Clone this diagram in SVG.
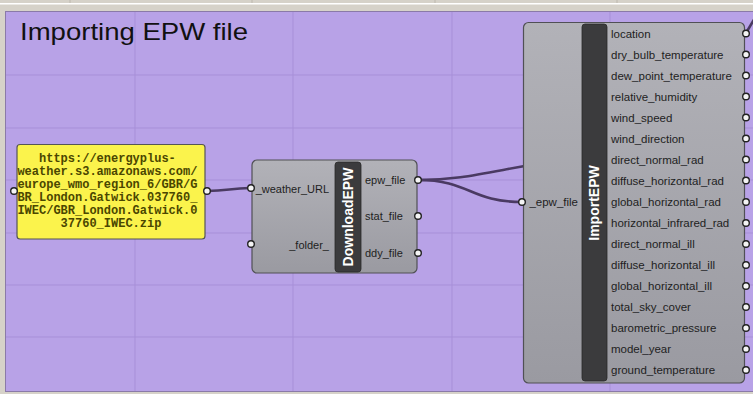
<svg xmlns="http://www.w3.org/2000/svg" width="753" height="394" viewBox="0 0 753 394">
<defs>
<linearGradient id="cg" x1="0" y1="0" x2="0" y2="1">
<stop offset="0" stop-color="#b2b2b8"/>
<stop offset="1" stop-color="#9a9aa1"/>
</linearGradient>
</defs>
<style>
.bg{fill:#d6d2c9}
.grid{stroke:#a78fd8;stroke-width:1}
.comp{fill:url(#cg);stroke:#505055;stroke-width:1.2}
.bar{fill:#3b3b3d;stroke:#2a2a2a;stroke-width:0.8}
.lbl{font-family:"Liberation Sans",Arial,sans-serif;font-size:11px;fill:#1e1e22}
.lbl2{font-family:"Liberation Sans",Arial,sans-serif;font-size:11.5px;fill:#1e1e22}
.title{font-family:"Liberation Sans",Arial,sans-serif;font-size:24px;fill:#111}
.name{font-family:"Liberation Sans",Arial,sans-serif;font-size:14px;font-weight:bold;fill:#ffffff}
.pin{fill:#f4f4f4;stroke:#222;stroke-width:1.4}
.wire{fill:none;stroke:#4a3a62;stroke-width:2.6}
.panel{fill:#fbf34c;stroke:#555;stroke-width:1.2}
.ptxt{font-family:"Liberation Mono","Courier New",monospace;font-size:12px;font-weight:bold;fill:#4a4600}
</style>
<rect class="bg" x="0" y="0" width="753" height="394"/>
<rect x="0" y="3" width="753" height="1.5" fill="#ffffff"/>
<g stroke="#bdb8ae" stroke-width="1">
<line x1="70" y1="0" x2="70" y2="3"/><line x1="252" y1="0" x2="252" y2="3"/><line x1="435" y1="0" x2="435" y2="3"/><line x1="617" y1="0" x2="617" y2="3"/>
</g>
<rect x="5.5" y="11.5" width="760" height="380" fill="#b8a2e7" stroke="#8a7aa8" stroke-width="1"/>
<g id="grid" class="grid">
<line x1="135" y1="12" x2="135" y2="391"/>
<line x1="293" y1="12" x2="293" y2="391"/>
<line x1="452" y1="12" x2="452" y2="391"/>
<line x1="610" y1="12" x2="610" y2="391"/>
<line x1="6" y1="75" x2="753" y2="75"/>
<line x1="6" y1="128" x2="753" y2="128"/>
<line x1="6" y1="180" x2="753" y2="180"/>
<line x1="6" y1="233" x2="753" y2="233"/>
<line x1="6" y1="285" x2="753" y2="285"/>
<line x1="6" y1="337" x2="753" y2="337"/>
</g>
<text class="title" x="20" y="40" textLength="228" lengthAdjust="spacingAndGlyphs">Importing EPW file</text>

<g id="connectors">
<path class="wire" d="M207,191 C228,190 230,189 250,188"/>
<path class="wire" d="M418,180 C470,180 470,202 522,202"/>
<path class="wire" d="M418,180 C465,180 490,171 560,160"/>
<path class="wire" d="M746,33 L755,18"/>
</g>

<g id="panel">
<rect class="panel" x="17" y="144.5" width="188" height="94.5" rx="3"/>
<text class="ptxt" text-anchor="middle">
<tspan x="111" y="162">https://energyplus-</tspan>
<tspan x="111" y="175">weather.s3.amazonaws.com/</tspan>
<tspan x="111" y="188">europe_wmo_region_6/GBR/G</tspan>
<tspan x="111" y="201">BR_London.Gatwick.037760_</tspan>
<tspan x="111" y="214">IWEC/GBR_London.Gatwick.0</tspan>
<tspan x="111" y="227">37760_IWEC.zip</tspan>
</text>
<circle class="pin" cx="14" cy="191" r="3.3"/>
<circle class="pin" cx="207" cy="191" r="3.3"/>
</g>

<g id="downloadepw">
<rect class="comp" x="252" y="160" width="165" height="113" rx="5"/>
<rect class="bar" x="335" y="162" width="26" height="110" rx="3"/>
<text class="name" transform="translate(353,217) rotate(-90)" text-anchor="middle">DownloadEPW</text>
<text class="lbl" x="329" y="193" text-anchor="end">_weather_URL</text>
<text class="lbl" x="329" y="249" text-anchor="end">_folder_</text>
<text class="lbl" x="365" y="184">epw_file</text>
<text class="lbl" x="365" y="220">stat_file</text>
<text class="lbl" x="365" y="257">ddy_file</text>
<circle class="pin" cx="251" cy="188" r="3.3"/>
<circle class="pin" cx="251" cy="244" r="3.3"/>
<circle class="pin" cx="418" cy="180" r="3.3"/>
<circle class="pin" cx="418" cy="216" r="3.3"/>
<circle class="pin" cx="418" cy="253" r="3.3"/>
</g>

<g id="importepw">
<rect class="comp" x="523.5" y="22.5" width="221" height="360.5" rx="5"/>
<rect class="bar" x="582" y="24" width="25" height="357" rx="3"/>
<text class="name" transform="translate(599,203) rotate(-90)" text-anchor="middle">ImportEPW</text>
<text class="lbl2" x="578" y="206" text-anchor="end">_epw_file</text>
<circle class="pin" cx="522" cy="202" r="3.3"/>
<g class="lbl2">
<text x="611" y="37.5">location</text>
<text x="611" y="58.5">dry_bulb_temperature</text>
<text x="611" y="79.5">dew_point_temperature</text>
<text x="611" y="100.5">relative_humidity</text>
<text x="611" y="121.5">wind_speed</text>
<text x="611" y="142.5">wind_direction</text>
<text x="611" y="163.5">direct_normal_rad</text>
<text x="611" y="184.5">diffuse_horizontal_rad</text>
<text x="611" y="206">global_horizontal_rad</text>
<text x="611" y="227">horizontal_infrared_rad</text>
<text x="611" y="248">direct_normal_ill</text>
<text x="611" y="269">diffuse_horizontal_ill</text>
<text x="611" y="290">global_horizontal_ill</text>
<text x="611" y="311">total_sky_cover</text>
<text x="611" y="332">barometric_pressure</text>
<text x="611" y="353">model_year</text>
<text x="611" y="374">ground_temperature</text>
</g>
<g>
<circle class="pin" cx="746" cy="33.5" r="3.3"/>
<circle class="pin" cx="746" cy="54.5" r="3.3"/>
<circle class="pin" cx="746" cy="75.5" r="3.3"/>
<circle class="pin" cx="746" cy="96.5" r="3.3"/>
<circle class="pin" cx="746" cy="117.5" r="3.3"/>
<circle class="pin" cx="746" cy="138.5" r="3.3"/>
<circle class="pin" cx="746" cy="159.5" r="3.3"/>
<circle class="pin" cx="746" cy="180.5" r="3.3"/>
<circle class="pin" cx="746" cy="202" r="3.3"/>
<circle class="pin" cx="746" cy="223" r="3.3"/>
<circle class="pin" cx="746" cy="244" r="3.3"/>
<circle class="pin" cx="746" cy="265" r="3.3"/>
<circle class="pin" cx="746" cy="286" r="3.3"/>
<circle class="pin" cx="746" cy="307" r="3.3"/>
<circle class="pin" cx="746" cy="328" r="3.3"/>
<circle class="pin" cx="746" cy="349" r="3.3"/>
<circle class="pin" cx="746" cy="370" r="3.3"/>
</g>
</g>
</svg>
